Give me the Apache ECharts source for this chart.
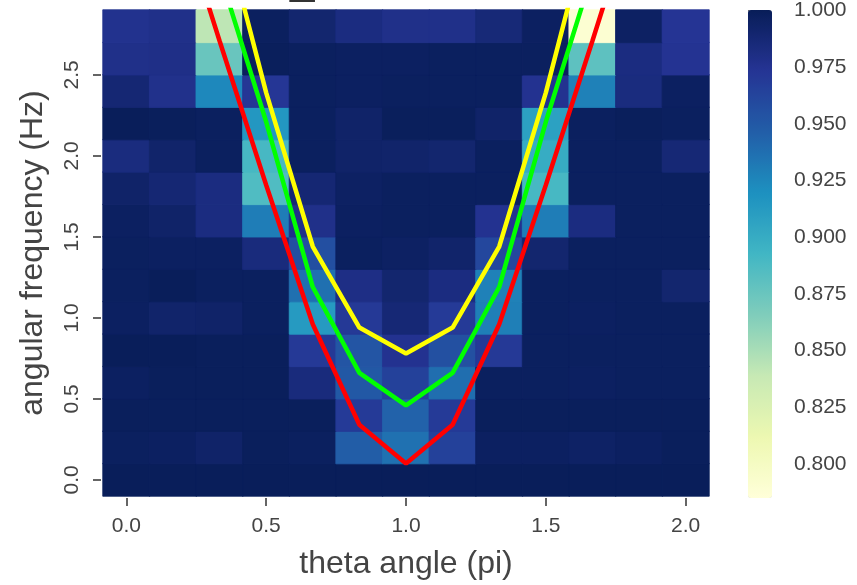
<!DOCTYPE html>
<html>
<head>
<meta charset="utf-8">
<script src="https://cdn.jsdelivr.net/npm/echarts@6/dist/echarts.min.js"></script>
<style>html,body{margin:0;padding:0;background:#fff}#c{width:857px;height:585px}</style>
</head>
<body>
<div id="c"></div>
<script>
// x: theta angle (pi), y: angular frequency (Hz)
const thetaPi = [0, 0.1667, 0.3333, 0.5, 0.6667, 0.8333, 1.0, 1.1667, 1.3333, 1.5, 1.6667, 1.8333, 2.0];
const freqHz = [0.0, 0.2, 0.4, 0.6, 0.8, 1.0, 1.2, 1.4, 1.6, 1.8, 2.0, 2.2, 2.4, 2.6, 2.8];
const xTicks = [0, 0.5, 1.0, 1.5, 2.0];
const yTicks = [0, 0.5, 1.0, 1.5, 2.0, 2.5];
const cbarTicks = [0.800, 0.825, 0.850, 0.875, 0.900, 0.925, 0.950, 0.975, 1.000];

// heatmap rows, bottom (0.0 Hz) to top (2.8 Hz); one value per theta column
const heatRows = [
  [0.999,0.999,0.999,0.999,0.999,0.999,0.999,0.999,0.999,0.999,0.999,0.999,0.999],
  [0.997,0.996,0.993,0.998,0.997,0.947,0.936,0.965,0.996,0.996,0.994,0.996,0.998],
  [0.998,0.998,0.998,0.998,0.998,0.969,0.944,0.969,0.998,0.998,0.998,0.998,0.998],
  [0.996,0.998,0.998,0.998,0.984,0.950,0.965,0.938,0.997,0.997,0.996,0.997,0.997],
  [0.999,0.999,0.998,0.998,0.970,0.952,0.975,0.955,0.970,0.997,0.997,0.997,0.997],
  [0.996,0.992,0.993,0.997,0.913,0.970,0.987,0.969,0.929,0.997,0.996,0.997,0.997],
  [0.997,0.999,0.997,0.997,0.937,0.980,0.990,0.982,0.928,0.997,0.997,0.997,0.990],
  [0.997,0.996,0.996,0.984,0.956,0.997,0.995,0.992,0.961,0.990,0.997,0.997,0.997],
  [0.996,0.993,0.982,0.930,0.978,0.996,0.997,0.997,0.975,0.930,0.982,0.997,0.997],
  [0.993,0.988,0.982,0.886,0.988,0.995,0.997,0.997,0.997,0.890,0.997,0.997,0.997],
  [0.983,0.992,0.997,0.890,0.997,0.993,0.992,0.990,0.997,0.900,0.997,0.997,0.987],
  [0.999,0.998,0.997,0.915,0.997,0.993,0.998,0.998,0.993,0.908,0.997,0.998,0.997],
  [0.988,0.977,0.924,0.972,0.997,0.996,0.997,0.997,0.997,0.975,0.928,0.983,0.996],
  [0.978,0.979,0.875,0.998,0.997,0.996,0.996,0.997,0.997,0.997,0.880,0.982,0.974],
  [0.976,0.978,0.842,0.997,0.990,0.982,0.978,0.978,0.986,0.996,0.790,0.995,0.973]
];

// dispersion branches (Hz) at each theta value
const redBranch    = [3.95, 3.62, 2.71, 1.82, 0.96, 0.34, 0.10, 0.34, 0.96, 1.82, 2.71, 3.62, 3.95];
const greenBranch  = [4.10, 3.85, 3.13, 2.21, 1.19, 0.66, 0.46, 0.66, 1.19, 2.21, 3.13, 3.85, 4.10];
const yellowBranch = [4.45, 4.20, 3.50, 2.39, 1.44, 0.94, 0.78, 0.94, 1.44, 2.39, 3.50, 4.20, 4.45];

const vMin = 0.785, vMax = 1.0;
const ylgnbu = ['#ffffd9','#edf8b1','#c7e9b4','#7fcdbb','#41b6c4','#1d91c0','#225ea8','#253494','#081d58'];

const heatData = [];
heatRows.forEach((row, r) => row.forEach((v, c) => {
  const col = echarts.color.lerp((v - vMin) / (vMax - vMin), ylgnbu);
  heatData.push({value: [c, r, v], itemStyle: {borderColor: col, borderWidth: 0.8}});
}));
const pairs = arr => arr.map((v, i) => [thetaPi[i], v]);

const FONT = 'Liberation Sans, Arial, sans-serif';
const TXT = '#444';
const tickStyle = {show: true, length: 8, lineStyle: {color: '#333', width: 1.5}};

const chart = echarts.init(document.getElementById('c'), null, {renderer: 'canvas'});
chart.setOption({
  animation: false,
  backgroundColor: '#fff',
  textStyle: {fontFamily: FONT},
  title: {text: '_', left: 290, top: -41, padding: 0,
          textStyle: {fontSize: 44, color: '#333', fontWeight: 'normal', fontFamily: FONT}},
  grid: [
    {left: 103, top: 10, width: 606, height: 488},
    {left: 748, top: 10, width: 24, height: 488}
  ],
  xAxis: [
    {type: 'category', gridIndex: 0, data: thetaPi.map(String), position: 'top', show: false, boundaryGap: true},
    {type: 'value', gridIndex: 0, min: -1/12, max: 25/12, position: 'bottom', offset: 2,
     axisLine: {show: false}, splitLine: {show: false},
     axisTick: Object.assign({customValues: xTicks}, tickStyle),
     axisLabel: {customValues: xTicks, formatter: v => v.toFixed(1), color: TXT, fontSize: 21, margin: 18, fontFamily: FONT},
     name: 'theta angle (pi)', nameLocation: 'middle', nameGap: 50,
     nameTextStyle: {fontSize: 32, color: TXT, fontFamily: FONT}},
    {type: 'value', gridIndex: 1, show: false, min: 0, max: 1}
  ],
  yAxis: [
    {type: 'category', gridIndex: 0, data: freqHz.map(String), position: 'right', show: false, boundaryGap: true},
    {type: 'value', gridIndex: 0, min: -0.1, max: 2.9, position: 'left', offset: 2,
     axisLine: {show: false}, splitLine: {show: false},
     axisTick: Object.assign({customValues: yTicks}, tickStyle),
     axisLabel: {customValues: yTicks, formatter: v => v.toFixed(1), rotate: 90, color: TXT, fontSize: 21, margin: 18, fontFamily: FONT},
     name: 'angular frequency (Hz)', nameLocation: 'middle', nameGap: 52,
     nameTextStyle: {fontSize: 32, color: TXT, fontFamily: FONT}},
    {type: 'value', gridIndex: 1, min: vMin, max: vMax, position: 'right',
     axisLine: {show: false}, splitLine: {show: false},
     axisTick: Object.assign({customValues: cbarTicks}, tickStyle),
     axisLabel: {customValues: cbarTicks, formatter: v => v.toFixed(3), color: TXT, fontSize: 21, margin: 22, fontFamily: FONT}}
  ],
  visualMap: {
    type: 'continuous', min: vMin, max: vMax, seriesIndex: 0, calculable: false,
    orient: 'vertical', left: 748, top: 10, itemWidth: 24, itemHeight: 488, padding: 0,
    text: null, showLabel: false, hoverLink: false,
    inRange: {color: ylgnbu}
  },
  series: [
    {type: 'heatmap', xAxisIndex: 0, yAxisIndex: 0, data: heatData},
    {type: 'line', xAxisIndex: 1, yAxisIndex: 1, data: pairs(redBranch), showSymbol: false, symbol: 'none',
     lineStyle: {color: '#ff0000', width: 4.5}, clip: true, z: 5},
    {type: 'line', xAxisIndex: 1, yAxisIndex: 1, data: pairs(greenBranch), showSymbol: false, symbol: 'none',
     lineStyle: {color: '#00ff00', width: 4.5}, clip: true, z: 5},
    {type: 'line', xAxisIndex: 1, yAxisIndex: 1, data: pairs(yellowBranch), showSymbol: false, symbol: 'none',
     lineStyle: {color: '#ffff00', width: 4.5}, clip: true, z: 5}
  ]
});
</script>
</body>
</html>
